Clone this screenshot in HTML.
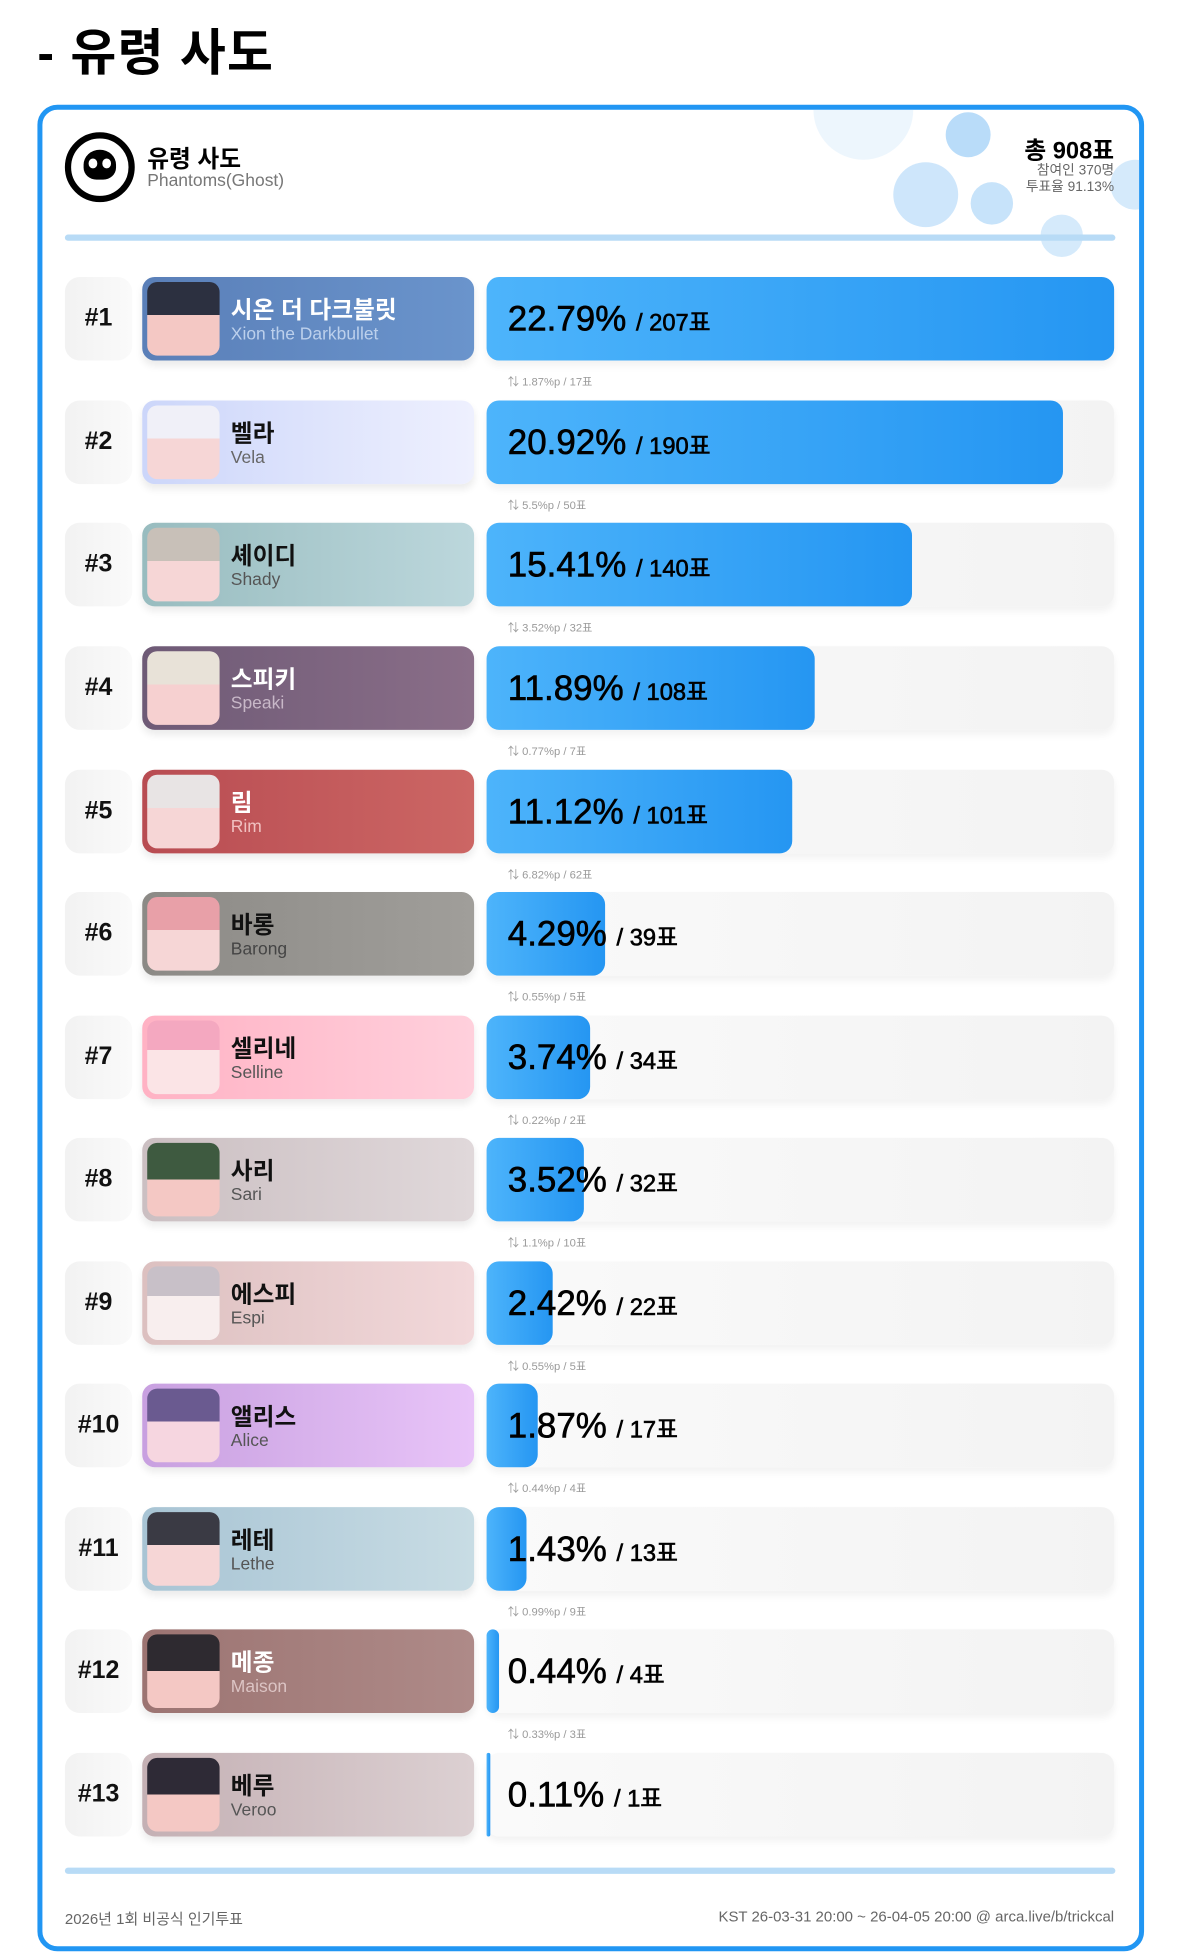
<!DOCTYPE html>
<html><head><meta charset="utf-8"><style>
*{margin:0;padding:0;box-sizing:border-box}
html,body{width:1179px;height:1954px;overflow:hidden;background:#fff}
body{font-family:"Liberation Sans","Noto Sans CJK KR",sans-serif}
#w{position:absolute;left:0;top:0;width:945px;height:1566px;transform:scale(1.24762);transform-origin:0 0}
.a{position:absolute}
.title{left:30px;top:10px;font-size:40px;font-weight:bold;color:#000;letter-spacing:1px}
.card{left:30px;top:84px;width:887px;height:1480px;border:4px solid #2196f3;border-radius:16px;overflow:hidden;background:#fff}
.bub{position:absolute;border-radius:50%;background:#b9dcf9}
.rank{left:52px;width:54px;height:67px;border-radius:12px;background:linear-gradient(90deg,#f2f2f2,#fafafa);font-weight:bold;font-size:20px;line-height:67px;text-align:center;color:#111}
.nm{left:114px;width:266px;height:67px;border-radius:10px;box-shadow:0 4px 6px rgba(0,0,0,.08)}
.av{position:absolute;left:4px;top:4px;width:58px;height:59px;border-radius:8px}
.n1{position:absolute;left:71px;top:12px;font-size:19px;font-weight:bold}
.n2{position:absolute;left:71px;top:37px;font-size:14px}
.trk{left:390px;width:503px;height:67px;border-radius:10px;background:linear-gradient(90deg,#fafafa,#f3f3f3);box-shadow:0 4px 6px rgba(0,0,0,.05)}
.bar{left:390px;height:67px;border-radius:10px;background:linear-gradient(90deg,#4db4fb,#2596f2)}
.pct{left:407px;height:67px;line-height:67px;font-size:28px;color:#000;white-space:nowrap;-webkit-text-stroke:0.5px #000}
.pct small{font-size:19px}
.dl{left:407px;font-size:9px;color:#9a9a9a}
.line{left:52px;width:842px;height:5px;border-radius:3px;background:#b8dbf6}
</style></head><body><div id="w">
<div class="a title">- 유령 사도</div>
<div class="a card">
 <div class="bub" style="left:618px;top:-40px;width:80px;height:80px;opacity:.25"></div>
 <div class="bub" style="left:724px;top:2px;width:36px;height:36px"></div>
 <div class="bub" style="left:682px;top:42px;width:52px;height:52px;opacity:.7"></div>
 <div class="bub" style="left:744px;top:58px;width:34px;height:34px;opacity:.8"></div>
 <div class="bub" style="left:800px;top:84px;width:34px;height:34px;opacity:.6"></div>
 <div class="bub" style="left:856px;top:40px;width:40px;height:40px;opacity:.6"></div>
</div>
<div class="a" style="left:52px;top:106px;width:56px;height:56px;border-radius:50%;border:5px solid #000;background:#fff"></div>
<div class="a" style="left:67px;top:120px;width:26px;height:24px;border-radius:50% 50% 40% 40%;background:#000"></div>
<div class="a" style="left:71px;top:127px;width:7px;height:8px;border-radius:50%;background:#fff"></div>
<div class="a" style="left:82px;top:127px;width:7px;height:8px;border-radius:50%;background:#fff"></div>
<div class="a" style="left:118px;top:113px;font-size:19px;font-weight:bold">유령 사도</div>
<div class="a" style="left:118px;top:136px;font-size:14px;color:#777">Phantoms(Ghost)</div>
<div class="a" style="right:52px;top:106px;font-size:19px;font-weight:bold;text-align:right">총 908표</div>
<div class="a" style="right:52px;top:131px;font-size:11px;color:#666;text-align:right;line-height:13px">참여인 370명<br>투표율 91.13%</div>
<div class="a line" style="top:188px"></div>
<div class="a line" style="top:1497px"></div>
<div class="a" style="left:52px;top:1529px;font-size:12px;color:#666">2026년 1회 비공식 인기투표</div>
<div class="a" style="right:52px;top:1529px;font-size:12px;color:#666">KST 26-03-31 20:00 ~ 26-04-05 20:00 @ arca.live/b/trickcal</div>

<div class="a rank" style="top:222px">#1</div>
<div class="a nm" style="top:222px;background:linear-gradient(90deg,#5a7fb8,#6a94cc)"><div class="av" style="background:linear-gradient(180deg,#2c3040 45%,#f4c8c4 45%)"></div><div class="n1" style="color:#fff">시온 더 다크불릿</div><div class="n2" style="color:#bcd0ec">Xion the Darkbullet</div></div>
<div class="a trk" style="top:222px"></div><div class="a bar" style="top:222px;width:503px"></div>
<div class="a pct" style="top:222px">22.79% <small>/ 207표</small></div>
<div class="a dl" style="top:299px">⇅ 1.87%p / 17표</div>

<div class="a rank" style="top:321px">#2</div>
<div class="a nm" style="top:321px;background:linear-gradient(90deg,#ccd6fa,#eef0fe)"><div class="av" style="background:linear-gradient(180deg,#f0f0f8 45%,#f6d6d6 45%)"></div><div class="n1" style="color:#111">벨라</div><div class="n2" style="color:#666">Vela</div></div>
<div class="a trk" style="top:321px"></div><div class="a bar" style="top:321px;width:462px"></div>
<div class="a pct" style="top:321px">20.92% <small>/ 190표</small></div>
<div class="a dl" style="top:398px">⇅ 5.5%p / 50표</div>

<div class="a rank" style="top:419px">#3</div>
<div class="a nm" style="top:419px;background:linear-gradient(90deg,#98bcbf,#bcd7dc)"><div class="av" style="background:linear-gradient(180deg,#c8c0b8 45%,#f6d6d6 45%)"></div><div class="n1" style="color:#111">셰이디</div><div class="n2" style="color:#555">Shady</div></div>
<div class="a trk" style="top:419px"></div><div class="a bar" style="top:419px;width:341px"></div>
<div class="a pct" style="top:419px">15.41% <small>/ 140표</small></div>
<div class="a dl" style="top:496px">⇅ 3.52%p / 32표</div>

<div class="a rank" style="top:518px">#4</div>
<div class="a nm" style="top:518px;background:linear-gradient(90deg,#6e5a76,#8a6e88)"><div class="av" style="background:linear-gradient(180deg,#e8e2d8 45%,#f6d0d0 45%)"></div><div class="n1" style="color:#fff">스피키</div><div class="n2" style="color:#c8b8c8">Speaki</div></div>
<div class="a trk" style="top:518px"></div><div class="a bar" style="top:518px;width:263px"></div>
<div class="a pct" style="top:518px">11.89% <small>/ 108표</small></div>
<div class="a dl" style="top:595px">⇅ 0.77%p / 7표</div>

<div class="a rank" style="top:617px">#5</div>
<div class="a nm" style="top:617px;background:linear-gradient(90deg,#b84c52,#cc6664)"><div class="av" style="background:linear-gradient(180deg,#e8e4e4 45%,#f6d6d6 45%)"></div><div class="n1" style="color:#fff">림</div><div class="n2" style="color:#f0c0c0">Rim</div></div>
<div class="a trk" style="top:617px"></div><div class="a bar" style="top:617px;width:245px"></div>
<div class="a pct" style="top:617px">11.12% <small>/ 101표</small></div>
<div class="a dl" style="top:694px">⇅ 6.82%p / 62표</div>

<div class="a rank" style="top:715px">#6</div>
<div class="a nm" style="top:715px;background:linear-gradient(90deg,#8c8a86,#a09e9a)"><div class="av" style="background:linear-gradient(180deg,#e8a0a8 45%,#f6d6d6 45%)"></div><div class="n1" style="color:#111">바롱</div><div class="n2" style="color:#444">Barong</div></div>
<div class="a trk" style="top:715px"></div><div class="a bar" style="top:715px;width:95px"></div>
<div class="a pct" style="top:715px">4.29% <small>/ 39표</small></div>
<div class="a dl" style="top:792px">⇅ 0.55%p / 5표</div>

<div class="a rank" style="top:814px">#7</div>
<div class="a nm" style="top:814px;background:linear-gradient(90deg,#ffb2c4,#ffd0dc)"><div class="av" style="background:linear-gradient(180deg,#f4a8c0 40%,#fbe4e6 40%)"></div><div class="n1" style="color:#111">셀리네</div><div class="n2" style="color:#555">Selline</div></div>
<div class="a trk" style="top:814px"></div><div class="a bar" style="top:814px;width:83px"></div>
<div class="a pct" style="top:814px">3.74% <small>/ 34표</small></div>
<div class="a dl" style="top:891px">⇅ 0.22%p / 2표</div>

<div class="a rank" style="top:912px">#8</div>
<div class="a nm" style="top:912px;background:linear-gradient(90deg,#cbbfc2,#e0d8da)"><div class="av" style="background:linear-gradient(180deg,#3e5a40 50%,#f4c8c4 50%)"></div><div class="n1" style="color:#111">사리</div><div class="n2" style="color:#555">Sari</div></div>
<div class="a trk" style="top:912px"></div><div class="a bar" style="top:912px;width:78px"></div>
<div class="a pct" style="top:912px">3.52% <small>/ 32표</small></div>
<div class="a dl" style="top:989px">⇅ 1.1%p / 10표</div>

<div class="a rank" style="top:1011px">#9</div>
<div class="a nm" style="top:1011px;background:linear-gradient(90deg,#dcc0c0,#f2d8da)"><div class="av" style="background:linear-gradient(180deg,#c8c0c8 40%,#f8eeee 40%)"></div><div class="n1" style="color:#111">에스피</div><div class="n2" style="color:#555">Espi</div></div>
<div class="a trk" style="top:1011px"></div><div class="a bar" style="top:1011px;width:53px"></div>
<div class="a pct" style="top:1011px">2.42% <small>/ 22표</small></div>
<div class="a dl" style="top:1088px">⇅ 0.55%p / 5표</div>

<div class="a rank" style="top:1109px">#10</div>
<div class="a nm" style="top:1109px;background:linear-gradient(90deg,#c8a0e0,#e8c4f8)"><div class="av" style="background:linear-gradient(180deg,#6a5a90 45%,#f6d6e0 45%)"></div><div class="n1" style="color:#111">앨리스</div><div class="n2" style="color:#555">Alice</div></div>
<div class="a trk" style="top:1109px"></div><div class="a bar" style="top:1109px;width:41px"></div>
<div class="a pct" style="top:1109px">1.87% <small>/ 17표</small></div>
<div class="a dl" style="top:1186px">⇅ 0.44%p / 4표</div>

<div class="a rank" style="top:1208px">#11</div>
<div class="a nm" style="top:1208px;background:linear-gradient(90deg,#a8c4d4,#c8dce4)"><div class="av" style="background:linear-gradient(180deg,#3a3a44 45%,#f6d6d6 45%)"></div><div class="n1" style="color:#111">레테</div><div class="n2" style="color:#555">Lethe</div></div>
<div class="a trk" style="top:1208px"></div><div class="a bar" style="top:1208px;width:32px"></div>
<div class="a pct" style="top:1208px">1.43% <small>/ 13표</small></div>
<div class="a dl" style="top:1285px">⇅ 0.99%p / 9표</div>

<div class="a rank" style="top:1306px">#12</div>
<div class="a nm" style="top:1306px;background:linear-gradient(90deg,#9c7472,#ae8a88)"><div class="av" style="background:linear-gradient(180deg,#2e2a30 50%,#f4c8c4 50%)"></div><div class="n1" style="color:#fff">메종</div><div class="n2" style="color:#dcc4c4">Maison</div></div>
<div class="a trk" style="top:1306px"></div><div class="a bar" style="top:1306px;width:10px;border-radius:6px"></div>
<div class="a pct" style="top:1306px">0.44% <small>/ 4표</small></div>
<div class="a dl" style="top:1383px">⇅ 0.33%p / 3표</div>

<div class="a rank" style="top:1405px">#13</div>
<div class="a nm" style="top:1405px;background:linear-gradient(90deg,#c4b0b4,#dcd0d2)"><div class="av" style="background:linear-gradient(180deg,#2e2a36 50%,#f4c8c4 50%)"></div><div class="n1" style="color:#111">베루</div><div class="n2" style="color:#555">Veroo</div></div>
<div class="a trk" style="top:1405px"></div><div class="a bar" style="top:1405px;width:3px;border-radius:2px"></div>
<div class="a pct" style="top:1405px">0.11% <small>/ 1표</small></div>
</div></body></html>
